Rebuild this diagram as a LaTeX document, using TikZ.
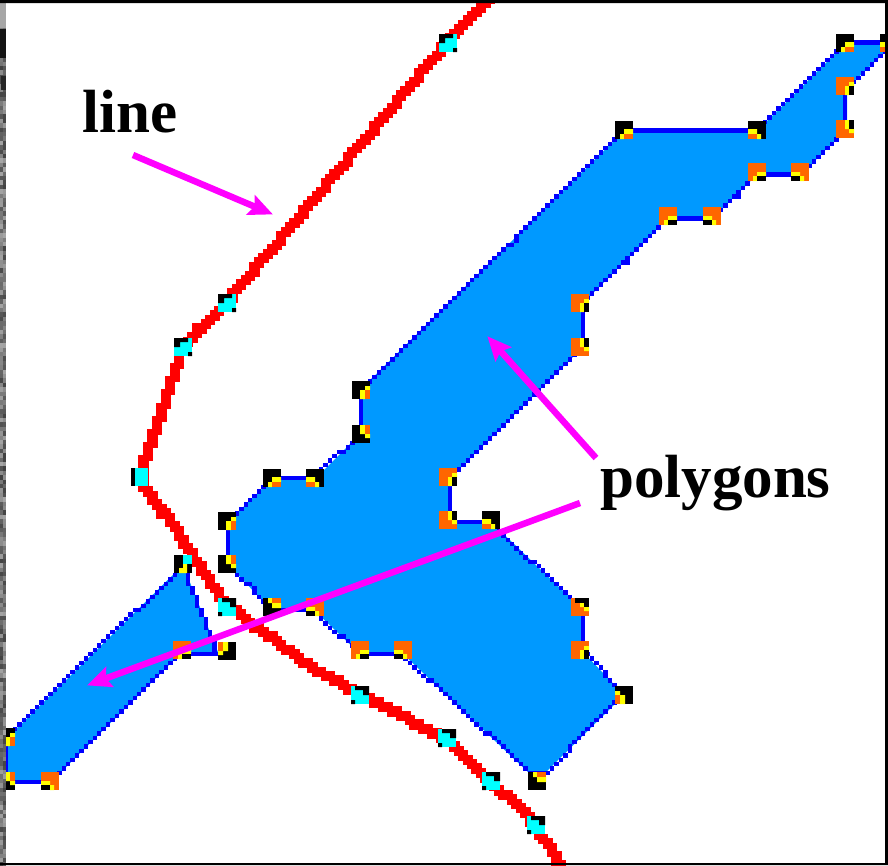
\documentclass[tikz,border=0pt]{standalone}
\usepackage{fontspec}
\setmainfont{Liberation Serif}
\usetikzlibrary{arrows.meta}
\definecolor{polyfill}{HTML}{0099FF}
\definecolor{polyedge}{HTML}{0000FF}
\definecolor{mkorange}{HTML}{FF6600}
\definecolor{mkyellow}{HTML}{FFFF00}
\definecolor{mkcyan}{HTML}{00FFFF}
\definecolor{linered}{HTML}{FF0000}
\definecolor{pointer}{HTML}{FF00FF}
\tikzset{
  pointerarrow/.style={draw=pointer,line width=6.5pt,-{Stealth[length=24pt,width=21pt,inset=4pt]},shorten >=-1pt},
  bigword/.style={font=\fontsize{61}{61}\selectfont\bfseries,text=black,inner sep=0pt,anchor=base west}
}
% snapped pixel run
\newcommand{\pixrun}[6]{%
  \pgfmathsetmacro{\nsteps}{int(max(abs(#5-#3),abs(#6-#4))/4.44)+1}%
  \foreach \i in {0,...,\nsteps}{%
    \pgfmathsetmacro{\px}{6+4.44*round((#3+(#5-#3)*\i/\nsteps-6)/4.44)}%
    \pgfmathsetmacro{\py}{3+4.4*round((#4+(#6-#4)*\i/\nsteps-3)/4.4)}%
    \fill[#1] (\px-#2/2,\py-#2/2) rectangle ++(#2,#2);%
  }%
}
\newcommand{\pixpath}[3]{% colour, size, list of x/y
  \foreach \xa/\ya [remember=\xa as \xb (initially none),remember=\ya as \yb (initially none)] in {#3}{%
    \ifx\xb\nonemark\else\pixrun{#1}{#2}{\xb}{\yb}{\xa}{\ya}\fi
  }%
}
\def\nonemark{none}
% markers: horizontal / vertical, convex (black) and concave (orange)
\newcommand{\cH}[4]{\begin{scope}[shift={(#1,#2)},xscale=#3,yscale=#4]
  \fill[black] (-9,-9) rectangle (9,9);
  \fill[mkyellow] (0,-1) rectangle (9,4) (-4,4) rectangle (0,9);
  \fill[mkorange] (0,4) rectangle (9,9);
\end{scope}}
\newcommand{\cV}[4]{\begin{scope}[shift={(#1,#2)},xscale=#3,yscale=#4]
  \fill[black] (-9,-9) rectangle (9,9);
  \fill[mkyellow] (-1,0) rectangle (4,9) (4,-4) rectangle (9,0);
  \fill[mkorange] (4,0) rectangle (9,9);
\end{scope}}
\newcommand{\oH}[4]{\begin{scope}[shift={(#1,#2)},xscale=#3,yscale=#4]
  \fill[mkorange] (-9,-9) rectangle (9,9);
  \fill[mkyellow] (0,0) rectangle (9,4) (-4,4) rectangle (0,9);
  \fill[black] (0,4) rectangle (9,9);
\end{scope}}
\newcommand{\oV}[4]{\begin{scope}[shift={(#1,#2)},xscale=#3,yscale=#4]
  \fill[mkorange] (-9,-9) rectangle (9,9);
  \fill[mkyellow] (0,0) rectangle (4,9) (4,-4) rectangle (9,0);
  \fill[black] (4,0) rectangle (9,9);
\end{scope}}
% line vertex marker: #3 = 1 lower part of the line, -1 upper part
\newcommand{\cy}[3]{\begin{scope}[shift={(#1,#2)},xscale=#3]
  \fill[mkcyan] (-9,-9) rectangle (9,9);
  \fill[black] (-5,-9) rectangle (9,-5) (3,-5) rectangle (9,0) (-9,5) rectangle (-5,9);
\end{scope}}
\begin{document}
\begin{tikzpicture}[x=1pt,y=-1pt]
\useasboundingbox (0,0) rectangle (888,865);
\fill[white] (0,0) rectangle (888,865);
% polygons
\fill[polyfill] (845,44)--(885,44)--(885,52)--(847,88)--(847,128)--(801,175)--(757,175)--(712,218)--(668,218)--(583,303)--(583,347)--(450,478)--(450,522)--(491,522)--(583,610)--(583,652)--(624,695)--(546,772)--(528,772)--(403,654)--(360,654)--(315,611)--(272,611)--(229,565)--(229,521)--(272,479)--(315,479)--(361,433)--(361,389)--(624,131)--(757,131)--cycle;
\fill[polyfill] (183,565)--(218,652)--(182,652)--(50,783)--(8,783)--(8,737)--cycle;
\pixpath{polyedge}{4.44}{845/44,885/44,885/52,847/88,847/128,801/175,757/175,712/218,668/218,583/303,583/347,450/478,450/522,491/522,583/610,583/652,624/695,546/772,528/772,403/654,360/654,315/611,272/611,229/565,229/521,272/479,315/479,361/433,361/389,624/131,757/131,845/44}
\pixpath{polyedge}{4.44}{183/565,218/652,182/652,50/783,8/783,8/737,183/565}
% the line
\pixpath{linered}{10.3}{492/-5,447/42,227/302,183/347,140/477,220/597,245/620,297/657,360/695,447/738,491/781,536/825,563/870}
% polygon markers
\cH{624}{130}{1}{1} \cH{757}{130}{-1}{1} \cH{845}{43}{1}{1} \cH{889}{43}{-1}{1}
\oV{845}{86}{1}{1} \oV{845}{129}{1}{-1}
\oH{757}{172}{1}{1} \oH{800}{172}{-1}{1} \oH{668}{216}{1}{1} \oH{712}{216}{-1}{1}
\oV{580}{303}{1}{1} \oV{580}{347}{1}{-1} \oV{448}{477}{1}{1} \oV{448}{520}{1}{-1}
\cH{491}{520}{-1}{1} \oV{580}{607}{1}{-1} \fill[black] (575,598) rectangle (589,603);
\oV{580}{650}{1}{1}
\cV{624}{695}{-1}{1} \cH{537}{781}{1}{-1}
\oH{403}{650}{-1}{1} \oH{360}{650}{1}{1} \oH{315}{607}{-1}{1} \cH{272}{607}{1}{-1}
\cV{227}{564}{1}{-1} \cV{227}{521}{1}{1} \cH{272}{478}{1}{1} \cH{315}{478}{-1}{1}
\cV{361}{390}{1}{1} \cV{361}{434}{1}{-1}
\fill[black] (174,555) rectangle (192,573);
\fill[mkcyan] (183,555) rectangle (192,564);
\fill[mkyellow] (183,564) rectangle (187,568) (179,568) rectangle (187,573);
\cV{227}{651}{-1}{-1} \oH{182}{650}{1}{1}
\cV{6}{737}{1}{1} \cV{6}{781}{1}{-1} \oH{50}{781}{-1}{1}
% line markers
\cy{448}{43}{-1} \cy{227}{303}{-1} \cy{183}{347}{-1}
\fill[black] (131,468) rectangle (135,486); \fill[mkcyan] (135,468) rectangle (148,486);
\cy{227}{607}{1} \cy{360}{695}{1} \cy{447}{738}{1} \cy{491}{781}{1} \cy{536}{825}{1}
% frame and scanner noise
\pgfmathsetseed{7}
\foreach \j in {0,...,196}{%
  \pgfmathsetmacro{\gv}{int(35+rnd*40)}%
  \pgfmathsetmacro{\gw}{int(35+rnd*40)}%
  \fill[black!\gv] (0,{\j*4.4}) rectangle (3,{\j*4.4+4.5});%
  \fill[black!\gw] (3,{\j*4.4}) rectangle (6,{\j*4.4+4.5});%
}
\fill[black!35] (0,3) rectangle (6,28);
\fill[black!92] (0,29) rectangle (6,58);
\fill[black!85] (1,76) rectangle (6,90);
\fill[black] (0,0) rectangle (888,3) (885,0) rectangle (888,865) (0,863) rectangle (888,865);
% labels and pointers
\node[bigword] (lineword) at (82,132) {line};
\node[bigword] (polyword) at (600,497) {polygons};
\coordinate (lineptr) at (133,155);
\coordinate (linetip) at (272,214);
\coordinate (polyptrA) at (596,458);
\coordinate (polytipA) at (488,337);
\coordinate (polyptrB) at (580,503);
\coordinate (polytipB) at (88,685);
\draw[pointerarrow] (lineptr) -- (linetip);
\draw[pointerarrow] (polyptrA) -- (polytipA);
\draw[pointerarrow] (polyptrB) -- (polytipB);
\end{tikzpicture}
\end{document}
